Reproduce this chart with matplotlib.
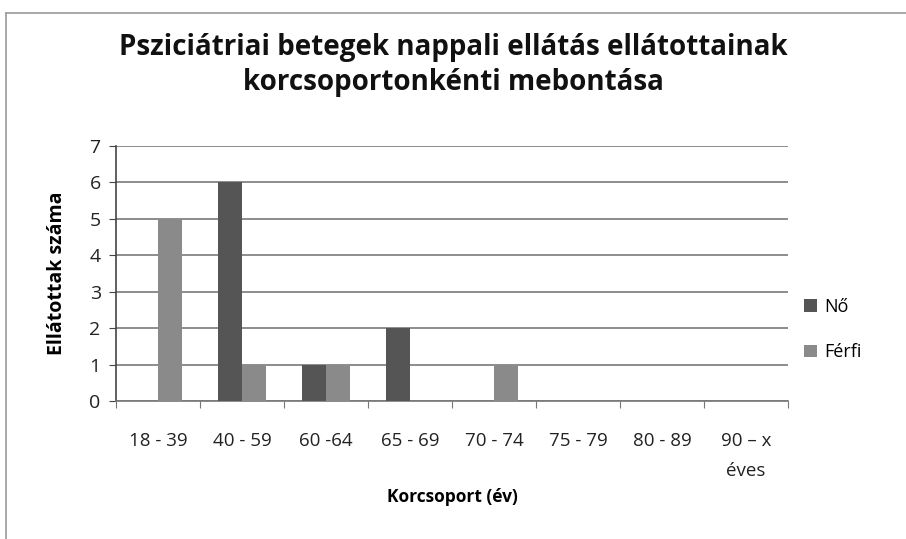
import matplotlib.pyplot as plt
import numpy as np
from matplotlib.lines import Line2D

plt.rcParams['font.family'] = ['Open Sans', 'DejaVu Sans']

# adatok
korcsoport = ['18 - 39', '40 - 59', '60 -64', '65 - 69', '70 - 74',
              '75 - 79', '80 - 89', '90 – x\néves']
no = [0, 6, 1, 2, 0, 0, 0, 0]
ferfi = [5, 1, 1, 0, 1, 0, 0, 0]

W, H = 906, 539
fig = plt.figure(figsize=(W / 100, H / 100), dpi=100)
fig.patch.set_facecolor('white')

# keret (felső és bal oldal látszik)
fig.lines.append(Line2D([6 / W, 1], [1 - 13 / H, 1 - 13 / H], transform=fig.transFigure,
                        color='#9a9a9a', linewidth=1.2))
fig.lines.append(Line2D([6 / W, 6 / W], [0, 1 - 13 / H], transform=fig.transFigure,
                        color='#9a9a9a', linewidth=1.2))

ax = fig.add_axes([116 / W, 1 - 401 / H, 672 / W, 255 / H])

x = np.arange(len(korcsoport))
bw = 0.285
ax.bar(x - bw / 2, no, bw, color='#555555', label='Nő', zorder=3)
ax.bar(x + bw / 2, ferfi, bw, color='#8a8a8a', label='Férfi', zorder=3)

ax.set_xlim(-0.5, len(korcsoport) - 0.5)
ax.set_ylim(0, 7)
ax.set_yticks(range(0, 8))
ax.yaxis.grid(True, color='#6e6e6e', linewidth=1.1, zorder=0)

ax.set_xticks(np.arange(-0.5, len(korcsoport), 1), minor=False)
ax.set_xticklabels([])
ax.set_xticks(x, minor=True)
ax.set_xticklabels(korcsoport, minor=True, fontsize=13.5, color='#222222',
                   linespacing=1.9, va='top')
ax.tick_params(axis='x', which='minor', length=0, pad=22)
ax.tick_params(axis='x', which='major', length=5, color='#777777', direction='out')
ax.tick_params(axis='y', length=5, color='#444444', labelsize=14, labelcolor='#222222', pad=6)

for s in ['top', 'right']:
    ax.spines[s].set_visible(False)
ax.spines['left'].set_color('#444444')
ax.spines['bottom'].set_color('#777777')
ax.spines['left'].set_linewidth(1.2)
ax.spines['bottom'].set_linewidth(1.2)

ax.set_ylabel('Ellátottak száma', fontsize=14, fontweight='bold', labelpad=16)
ax.set_xlabel('Korcsoport (év)', fontsize=12.5, fontweight='bold', labelpad=6)

fig.text(453 / W, 1 - 65 / H,
         'Psziciátriai betegek nappali ellátás ellátottainak\nkorcsoportonkénti mebontása',
         ha='center', va='center', fontsize=20, fontweight='bold', color='#111111',
         linespacing=1.25)

ax.legend(loc='center left', bbox_to_anchor=(1.0, 0.28), frameon=False,
          fontsize=13, handlelength=0.7, handleheight=0.7, handletextpad=0.4,
          labelspacing=1.5)

fig.savefig('out.png', dpi=100, facecolor='white')
